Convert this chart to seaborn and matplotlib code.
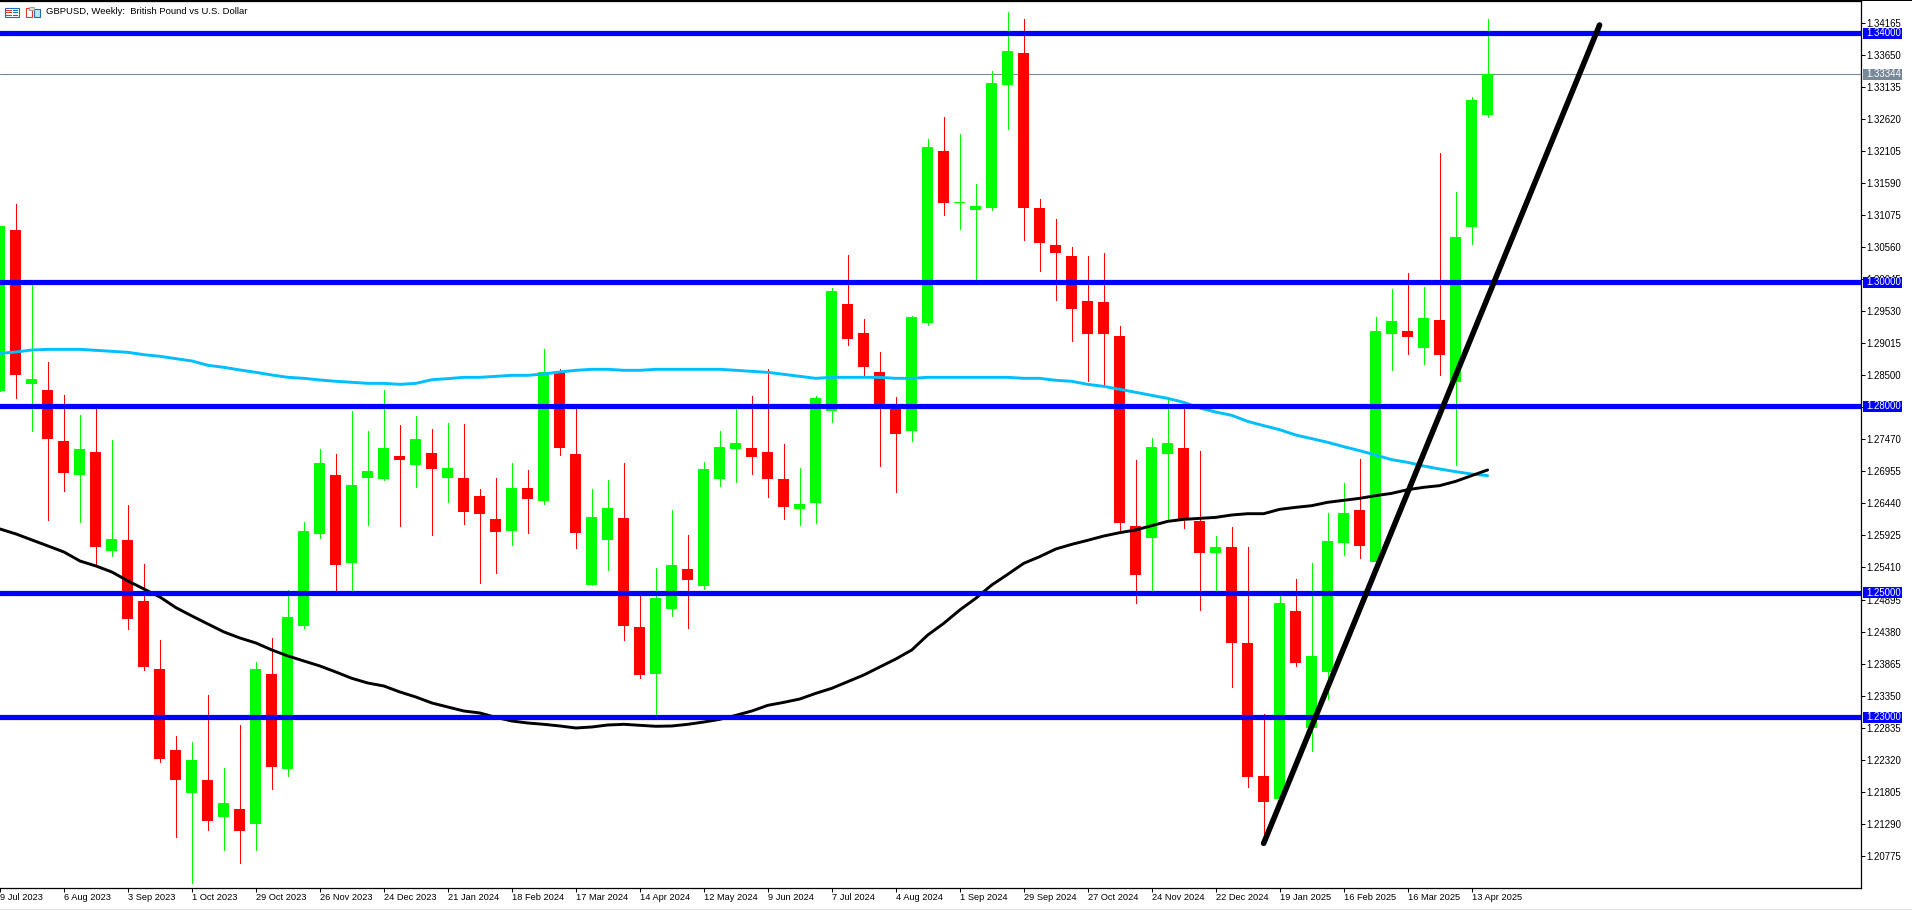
import numpy as np
import pandas as pd
import matplotlib
matplotlib.use("Agg")
import matplotlib.pyplot as plt
from matplotlib.patches import Rectangle
import seaborn as sns

# weekly candles
opens = [1.28248, 1.30837, 1.28366, 1.28264, 1.27444, 1.26897, 1.27267, 1.25680, 1.25852, 1.24871,
         1.23777, 1.22475, 1.21783, 1.21992, 1.21397, 1.21526, 1.21285, 1.23697, 1.22169, 1.24469,
         1.25949, 1.26897, 1.25482, 1.26849, 1.26833, 1.27203, 1.27058, 1.27251, 1.26849, 1.26849,
         1.26560, 1.26190, 1.25997, 1.26688, 1.26479, 1.28570, 1.27235, 1.25128, 1.25852, 1.26206,
         1.24453, 1.23697, 1.24742, 1.25386, 1.25112, 1.26833, 1.27315, 1.27332, 1.27267, 1.26833,
         1.26351, 1.26447, 1.27927, 1.29647, 1.29181, 1.28554, 1.27975, 1.27605, 1.29342, 1.32108,
         1.31271, 1.31159, 1.31191, 1.33169, 1.33684, 1.31191, 1.30596, 1.30419, 1.29696, 1.29679,
         1.29133, 1.26077, 1.25884, 1.27235, 1.27332, 1.26158, 1.25643, 1.25739, 1.24196, 1.22057,
         1.21692, 1.24710, 1.22829, 1.23729, 1.25804, 1.26334, 1.25498, 1.29165, 1.29213, 1.28940,
         1.29390, 1.28393, 1.30886, 1.32687]
closes = [1.30902, 1.28505, 1.28441, 1.27476, 1.26935, 1.27315, 1.25745, 1.25868, 1.24587, 1.23810,
          1.22330, 1.21992, 1.22314, 1.21333, 1.21623, 1.21172, 1.23777, 1.22202, 1.24614, 1.25997,
          1.27090, 1.25450, 1.26737, 1.26962, 1.27332, 1.27139, 1.27476, 1.26994, 1.27010, 1.26302,
          1.26270, 1.25981, 1.26688, 1.26511, 1.28554, 1.27332, 1.25965, 1.26222, 1.26367, 1.24469,
          1.23681, 1.24919, 1.25450, 1.25209, 1.26994, 1.27348, 1.27412, 1.27187, 1.26833, 1.26383,
          1.26431, 1.28136, 1.29856, 1.29084, 1.28634, 1.28002, 1.27557, 1.29438, 1.32172, 1.31271,
          1.31288, 1.31223, 1.33201, 1.33716, 1.31191, 1.30628, 1.30467, 1.29567, 1.29165, 1.29165,
          1.26125, 1.25289, 1.27348, 1.27412, 1.26190, 1.25643, 1.25739, 1.24196, 1.22041, 1.21639,
          1.24839, 1.23874, 1.23987, 1.25836, 1.26286, 1.25756, 1.29213, 1.29374, 1.29117, 1.29422,
          1.28827, 1.30725, 1.32928, 1.33346]
highs = [1.30902, 1.31255, 1.29996, 1.28715, 1.28184, 1.27862, 1.28002, 1.27460, 1.26415, 1.25466,
         1.24244, 1.22700, 1.22603, 1.23359, 1.22185, 1.22877, 1.23890, 1.24276, 1.25048, 1.26142,
         1.27315, 1.27235, 1.27927, 1.27605, 1.28264, 1.27701, 1.27846, 1.27637, 1.27734, 1.27717,
         1.26672, 1.26849, 1.27090, 1.26978, 1.28924, 1.28602, 1.28002, 1.26672, 1.26817, 1.27090,
         1.24994, 1.25402, 1.26334, 1.25932, 1.27106, 1.27605, 1.28002, 1.28168, 1.28602, 1.27396,
         1.27010, 1.28168, 1.29905, 1.30435, 1.29406, 1.28875, 1.28152, 1.29454, 1.32301, 1.32655,
         1.32381, 1.31577, 1.33394, 1.34343, 1.34230, 1.31336, 1.31014, 1.30564, 1.30419, 1.30467,
         1.29293, 1.27139, 1.27492, 1.28103, 1.28002, 1.27283, 1.25916, 1.26061, 1.25739, 1.23054,
         1.24951, 1.25225, 1.25482, 1.26286, 1.26769, 1.27155, 1.29438, 1.29888, 1.30146, 1.29921,
         1.32076, 1.31448, 1.32976, 1.34230]
lows = [1.28248, 1.28136, 1.27605, 1.26174, 1.26640, 1.26142, 1.25450, 1.25595, 1.24426, 1.23761,
        1.22282, 1.21076, 1.20336, 1.21188, 1.20867, 1.20658, 1.20867, 1.21848, 1.22057, 1.24437,
        1.25884, 1.24994, 1.24994, 1.26093, 1.26817, 1.26077, 1.26704, 1.25932, 1.26463, 1.26109,
        1.25160, 1.25321, 1.25772, 1.25965, 1.26431, 1.27219, 1.25723, 1.25128, 1.25370, 1.24244,
        1.23633, 1.23000, 1.24630, 1.24437, 1.25064, 1.26720, 1.26785, 1.26913, 1.26544, 1.26190,
        1.26093, 1.26125, 1.27750, 1.28988, 1.28505, 1.27042, 1.26624, 1.27444, 1.29310, 1.31079,
        1.30853, 1.29996, 1.31159, 1.32462, 1.30676, 1.30178, 1.29712, 1.29052, 1.28409, 1.28345,
        1.25981, 1.24839, 1.25048, 1.26174, 1.26045, 1.24726, 1.25021, 1.23488, 1.21880, 1.21054,
        1.21692, 1.23826, 1.22459, 1.23295, 1.25611, 1.25563, 1.25498, 1.28586, 1.28843, 1.28682,
        1.28505, 1.27058, 1.30612, 1.32655]

# moving averages
ma_blue = [1.28854, 1.28875, 1.28908, 1.28918, 1.28918, 1.28918, 1.28902, 1.28886, 1.28870, 1.28832,
           1.28806, 1.28768, 1.28731, 1.28661, 1.28629, 1.28586, 1.28548, 1.28505, 1.28468, 1.28452,
           1.28425, 1.28404, 1.28388, 1.28371, 1.28371, 1.28355, 1.28371, 1.28430, 1.28447, 1.28468,
           1.28468, 1.28484, 1.28500, 1.28500, 1.28522, 1.28554, 1.28581, 1.28597, 1.28597, 1.28581,
           1.28581, 1.28597, 1.28597, 1.28597, 1.28597, 1.28597, 1.28581, 1.28564, 1.28548, 1.28516,
           1.28484, 1.28452, 1.28468, 1.28468, 1.28468, 1.28468, 1.28452, 1.28452, 1.28468, 1.28468,
           1.28468, 1.28468, 1.28468, 1.28468, 1.28452, 1.28452, 1.28420, 1.28404, 1.28355, 1.28323,
           1.28275, 1.28227, 1.28178, 1.28130, 1.28066, 1.27975, 1.27910, 1.27857, 1.27760, 1.27691,
           1.27626, 1.27541, 1.27482, 1.27423, 1.27353, 1.27289, 1.27219, 1.27144, 1.27101, 1.27042,
           1.26994, 1.26951, 1.26913, 1.26887]
ma_black = [1.26029, 1.25949, 1.25852, 1.25756, 1.25659, 1.25514, 1.25434, 1.25337, 1.25193, 1.25064,
            1.24935, 1.24764, 1.24630, 1.24501, 1.24373, 1.24276, 1.24196, 1.24083, 1.23987, 1.23906,
            1.23826, 1.23729, 1.23627, 1.23552, 1.23504, 1.23408, 1.23327, 1.23231, 1.23166, 1.23102,
            1.23070, 1.23000, 1.22941, 1.22909, 1.22888, 1.22861, 1.22829, 1.22845, 1.22877, 1.22888,
            1.22872, 1.22856, 1.22861, 1.22888, 1.22925, 1.22968, 1.23032, 1.23102, 1.23193, 1.23241,
            1.23295, 1.23386, 1.23467, 1.23574, 1.23681, 1.23810, 1.23938, 1.24083, 1.24324, 1.24512,
            1.24726, 1.24914, 1.25128, 1.25300, 1.25477, 1.25584, 1.25707, 1.25782, 1.25847, 1.25916,
            1.25970, 1.26013, 1.26082, 1.26152, 1.26184, 1.26200, 1.26216, 1.26254, 1.26275, 1.26275,
            1.26345, 1.26377, 1.26404, 1.26458, 1.26490, 1.26522, 1.26565, 1.26602, 1.26661, 1.26699,
            1.26726, 1.26795, 1.26887, 1.26978]

# support / resistance levels and the hand drawn trend line
levels = [1.34, 1.30, 1.28, 1.25, 1.23]
last_price = 1.33344
trend_weeks = [79, 100]
trend_prices = [1.20974, 1.34134]

date_labels = ["9 Jul 2023", "6 Aug 2023", "3 Sep 2023", "1 Oct 2023", "29 Oct 2023", "26 Nov 2023",
               "24 Dec 2023", "21 Jan 2024", "18 Feb 2024", "17 Mar 2024", "14 Apr 2024", "12 May 2024",
               "9 Jun 2024", "7 Jul 2024", "4 Aug 2024", "1 Sep 2024", "29 Sep 2024", "27 Oct 2024",
               "24 Nov 2024", "22 Dec 2024", "19 Jan 2025", "16 Feb 2025", "16 Mar 2025", "13 Apr 2025"]
price_ticks = [1.34165, 1.33650, 1.33135, 1.32620, 1.32105, 1.31590, 1.31075, 1.30560, 1.30045,
               1.29530, 1.29015, 1.28500, 1.27985, 1.27470, 1.26955, 1.26440, 1.25925, 1.25410,
               1.24895, 1.24380, 1.23865, 1.23350, 1.22835, 1.22320, 1.21805, 1.21290, 1.20775]
title = "GBPUSD, Weekly:  British Pound vs U.S. Dollar"

W, H = 1912, 910
FONT = 6.9

sns.set_theme(style="white")
plt.rcParams['font.family'] = ['Liberation Sans', 'DejaVu Sans']

df = pd.DataFrame({'week': np.arange(len(opens)), 'open': opens, 'high': highs, 'low': lows,
                   'close': closes, 'ma_blue': ma_blue, 'ma_black': ma_black})
df['color'] = np.where(df['close'] >= df['open'], '#00FF00', '#FF0000')

fig = plt.figure(figsize=(W / 100, H / 100), dpi=100, facecolor='white')
ax_right = 1860.5
ax_top = 1
ax_bottom = 888
ax = fig.add_axes([0, 1 - ax_bottom / H, ax_right / W, (ax_bottom - ax_top) / H])
ax.set_facecolor('white')

# candles
ax.vlines(df['week'], df['low'], df['high'], colors=df['color'], linewidth=0.65, antialiased=False, zorder=2)
ax.bar(df['week'], (df['close'] - df['open']).abs(), bottom=df[['open', 'close']].min(axis=1),
       width=11 / 16, color=df['color'], linewidth=0, antialiased=False, zorder=2.1)

# moving averages
sns.lineplot(data=df, x='week', y='ma_blue', ax=ax, color='#00BFFF', linewidth=2.1, estimator=None,
             legend=False, zorder=3)
sns.lineplot(data=df, x='week', y='ma_black', ax=ax, color='black', linewidth=2.1, estimator=None,
             legend=False, zorder=3.1)

# levels
ax.axhline(last_price, color='#778899', linewidth=0.8, zorder=1.5)
for lv in levels:
    ax.axhline(lv, color='#0000FF', linewidth=3.75, zorder=4)

ax.plot(trend_weeks, trend_prices, color='black', linewidth=4.0, solid_capstyle='round', zorder=5)

ax.set_xlim(0.03125, 1861 / 16)
ax.set_ylim(1.34536 - ax_bottom * 1.60815e-4, 1.34536 - ax_top * 1.60815e-4)
ax.set_xlabel("")
ax.set_ylabel("")

for s in ax.spines.values():
    s.set_color('black')
    s.set_linewidth(0.9)
    s.set_zorder(6)
ax.spines['left'].set_visible(False)

ax.yaxis.tick_right()
ax.set_yticks(price_ticks)
ax.set_yticklabels(["%.5f" % p for p in price_ticks])
ax.set_xticks(df['week'][::4])
ax.set_xticklabels(date_labels, ha='left')
ax.tick_params(axis='y', right=True, length=3.2, width=0.7, color='black', labelsize=FONT, pad=1.2,
               labelcolor='black')
ax.tick_params(axis='x', bottom=True, length=3.0, width=0.7, color='black', labelsize=6.7, pad=0.8,
               labelcolor='black')

# price badges on the right scale
trans = ax.get_yaxis_transform()
badge_h = 11 * 1.60815e-4
for lv, col in [(v, '#0000FF') for v in levels] + [(last_price, '#778899')]:
    ax.add_patch(Rectangle((1863 / ax_right, lv - badge_h / 2), 39 / ax_right, badge_h, transform=trans,
                           facecolor=col, edgecolor='none', clip_on=False, zorder=7))
    ax.text(1866.7 / ax_right, lv, "%.5f" % lv, transform=trans, color='white', fontsize=FONT,
            ha='left', va='center', clip_on=False, zorder=8)

fig.text(46 / W, 1 - 12 / H, title, fontsize=6.8, color='black', ha='left', va='center')


def px_rect(x, y, w, h, **kw):
    fig.add_artist(Rectangle((x / W, 1 - (y + h) / H), w / W, h / H, transform=fig.transFigure, **kw))


# window icons top left
px_rect(4.5, 7.5, 14.5, 9.5, facecolor='white', edgecolor='#1B6FB5', linewidth=0.8)
for yy in [9.5, 12, 14.5]:
    px_rect(6, yy, 5.5, 1, facecolor='#E8352B', edgecolor='none')
    px_rect(12.5, yy, 5, 1, facecolor='#1B6FB5', edgecolor='none')
px_rect(25.5, 7.5, 6.5, 9.5, facecolor='white', edgecolor='#E8352B', linewidth=0.8)
px_rect(33.5, 9, 6, 8, facecolor='#BFE3F7', edgecolor='#1B6FB5', linewidth=0.8)
px_rect(29, 6.5, 5, 3, facecolor='#DDDDDD', edgecolor='#999999', linewidth=0.6)

# thin strip at the very bottom of the window
px_rect(0, 908.5, W, 1.5, facecolor='#E4E4E4', edgecolor='none')
px_rect(0, 0, W, 0.8, facecolor='black', edgecolor='none')

fig.savefig("out.png", dpi=100, facecolor='white')
